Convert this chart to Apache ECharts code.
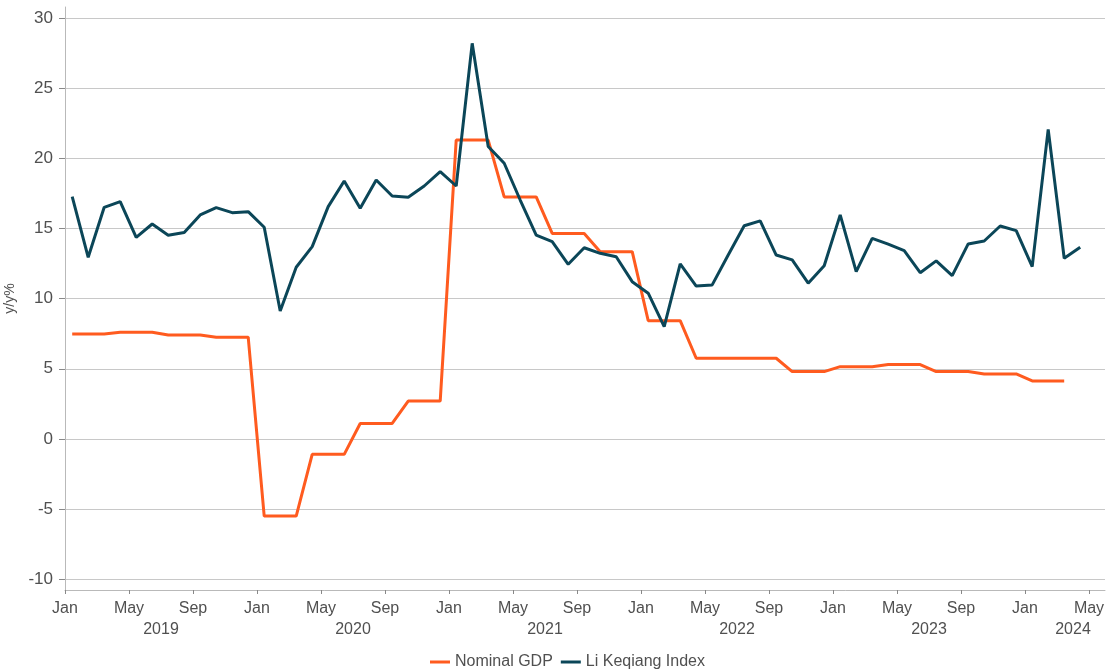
<!DOCTYPE html>
<html>
<head>
<meta charset="utf-8">
<title>Nominal GDP vs Li Keqiang Index</title>
<script src="https://cdn.jsdelivr.net/npm/echarts@6/dist/echarts.min.js"></script>
<style>
  html, body { margin: 0; padding: 0; background: #fff; }
  #chart { width: 1109px; height: 670px; }
</style>
</head>
<body>
<div id="chart"></div>
<script>
  // months counted from Jan 2019 (0 = Jan 2019)
  const monthTickLabels = ["Jan", "May", "Sep"];
  const monthTicks = [0, 4, 8, 12, 16, 20, 24, 28, 32, 36, 40, 44, 48, 52, 56, 60, 64];
  const yearLabels = ["2019", "2020", "2021", "2022", "2023", "2024"];
  const yearLabelPos = [6, 18, 30, 42, 54, 63];
  const yTicks = [-10, -5, 0, 5, 10, 15, 20, 25, 30];

  // Nominal GDP y/y %, monthly (quarterly value repeated), Jan 2019 - Mar 2024
  const gdpValues = [
    7.48, 7.48, 7.48, 7.6, 7.6, 7.6, 7.41, 7.41, 7.41, 7.25, 7.25, 7.25,
    -5.5, -5.5, -5.5, -1.1, -1.1, -1.1, 1.1, 1.1, 1.1, 2.7, 2.7, 2.7,
    21.3, 21.3, 21.3, 17.25, 17.25, 17.25, 14.65, 14.65, 14.65, 13.35, 13.35, 13.35,
    8.43, 8.43, 8.43, 5.75, 5.75, 5.75, 5.75, 5.75, 5.75, 4.8, 4.8, 4.8,
    5.15, 5.15, 5.15, 5.3, 5.3, 5.3, 4.8, 4.8, 4.8, 4.63, 4.63, 4.63,
    4.13, 4.13, 4.13
  ];

  // Li Keqiang Index y/y %, monthly, Jan 2019 - Apr 2024
  const kqValues = [
    17.27, 12.95, 16.51, 16.92, 14.37, 15.32, 14.52, 14.71, 15.97, 16.49, 16.13, 16.2,
    15.09, 9.12, 12.24, 13.71, 16.56, 18.39, 16.44, 18.46, 17.32, 17.23, 18.03, 19.05,
    18.03, 28.2, 20.85, 19.65, 17.03, 14.53, 14.06, 12.45, 13.63, 13.23, 12.99, 11.21,
    10.39, 8.0, 12.47, 10.9, 10.98, 13.11, 15.2, 15.54, 13.11, 12.76, 11.1, 12.35,
    15.97, 11.93, 14.3, 13.88, 13.42, 11.85, 12.69, 11.64, 13.9, 14.11, 15.18, 14.85,
    12.28, 22.07, 12.88, 13.66
  ];

  const midMonth = 0.45;
  const toPoints = (values) => values.map((v, i) => [i + midMonth, v]);

  const textColor = "#505050";
  const axisGrey = "#b9b9b9";

  const chart = echarts.init(document.getElementById("chart"));
  chart.setOption({
    animation: false,
    color: ["#ff5b1f", "#0b4658"],
    grid: { left: 65, right: 4, top: 7, bottom: 80, containLabel: false, outerBoundsMode: "none" },
    legend: {
      left: 425,
      top: 649,
      icon: "rect",
      itemWidth: 20,
      itemHeight: 3,
      itemGap: 8,
      textStyle: { fontFamily: "Liberation Sans", fontSize: 16, color: textColor },
      data: ["Nominal GDP", "Li Keqiang Index"]
    },
    xAxis: [
      {
        type: "value",
        min: 0,
        max: 65,
        axisLine: { show: true, onZero: false, lineStyle: { color: axisGrey } },
        axisTick: { show: true, length: 4, customValues: monthTicks, lineStyle: { color: "#888" } },
        splitLine: { show: false },
        axisLabel: {
          customValues: monthTicks,
          margin: 11,
          fontFamily: "Liberation Sans",
          fontSize: 16,
          color: textColor,
          formatter: (v) => monthTickLabels[Math.round(v / 4) % 3]
        }
      },
      {
        type: "value",
        min: 0,
        max: 65,
        position: "bottom",
        axisLine: { show: false, onZero: false },
        axisTick: { show: false },
        splitLine: { show: false },
        axisLabel: {
          customValues: yearLabelPos,
          margin: 32,
          fontFamily: "Liberation Sans",
          fontSize: 16,
          color: textColor,
          formatter: (v) => yearLabels[yearLabelPos.indexOf(v)]
        }
      }
    ],
    yAxis: {
      type: "value",
      min: -10.77,
      max: 30.79,
      name: "y/y%",
      nameLocation: "middle",
      nameRotate: 90,
      nameGap: 47,
      nameTextStyle: { fontFamily: "Liberation Sans", fontSize: 14, color: textColor },
      axisLine: { show: true, onZero: false, lineStyle: { color: axisGrey } },
      axisTick: { show: true, length: 6, customValues: yTicks, lineStyle: { color: "#888" } },
      splitLine: { show: true, lineStyle: { color: "#c8c8c8", width: 1 } },
      axisLabel: {
        customValues: yTicks,
        margin: 12,
        fontFamily: "Liberation Sans",
        fontSize: 17,
        color: textColor
      }
    },
    series: [
      {
        name: "Nominal GDP",
        type: "line",
        data: toPoints(gdpValues),
        showSymbol: false,
        lineStyle: { width: 3 }
      },
      {
        name: "Li Keqiang Index",
        type: "line",
        data: toPoints(kqValues),
        showSymbol: false,
        lineStyle: { width: 3 }
      }
    ]
  });
</script>
</body>
</html>
